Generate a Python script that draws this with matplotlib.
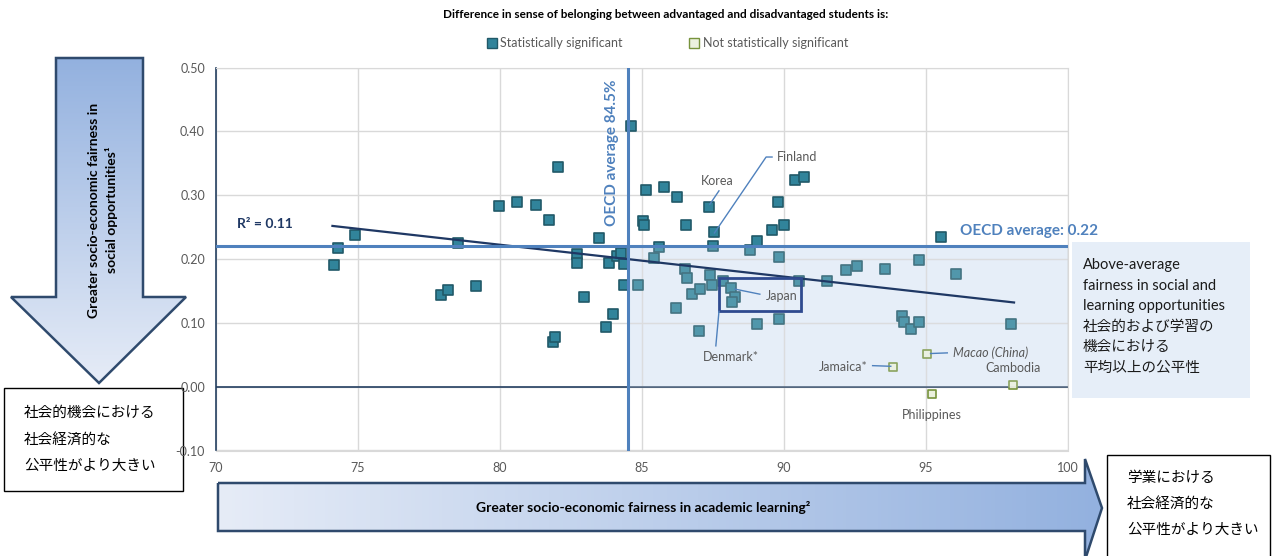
import numpy as np
import matplotlib
matplotlib.use("Agg")
import matplotlib.pyplot as plt
from matplotlib.patches import Polygon, Rectangle
from matplotlib.colors import LinearSegmentedColormap

LATIN = ['Lato', 'Noto Sans CJK JP', 'DejaVu Sans']
CJK = ['Noto Sans CJK JP', 'DejaVu Sans']
plt.rcParams['font.family'] = LATIN

# data
sig_x = [74.14, 74.29, 74.88, 77.93, 78.16, 78.51, 79.17, 79.98, 80.60, 81.28,
         81.74, 82.05, 81.86, 81.93, 82.72, 82.71, 82.95, 83.47, 83.83, 83.99,
         83.74, 84.13, 84.27, 84.38, 84.36, 84.62, 84.86, 85.02, 85.08, 85.15,
         85.43, 85.61, 85.77, 86.23, 86.21, 86.50, 86.54, 86.58, 86.75, 87.03,
         87.01, 87.37, 87.39, 87.45, 87.51, 87.52, 87.84, 88.13, 88.27, 88.18,
         88.79, 89.04, 89.06, 89.59, 89.78, 89.84, 89.84, 90.01, 90.40, 90.70,
         90.53, 91.53, 92.17, 92.58, 93.56, 94.15, 94.24, 94.47, 94.75, 94.75,
         95.52, 96.06, 97.98]
sig_y = [0.190, 0.217, 0.237, 0.144, 0.152, 0.226, 0.158, 0.284, 0.289, 0.285,
         0.261, 0.344, 0.070, 0.078, 0.208, 0.194, 0.141, 0.233, 0.194, 0.114,
         0.093, 0.205, 0.209, 0.192, 0.159, 0.408, 0.160, 0.259, 0.253, 0.309,
         0.202, 0.219, 0.313, 0.298, 0.124, 0.184, 0.253, 0.171, 0.145, 0.153,
         0.088, 0.281, 0.175, 0.160, 0.221, 0.242, 0.165, 0.155, 0.140, 0.132,
         0.214, 0.229, 0.098, 0.246, 0.290, 0.204, 0.106, 0.254, 0.324, 0.329,
         0.166, 0.166, 0.183, 0.189, 0.184, 0.111, 0.101, 0.090, 0.102, 0.199,
         0.235, 0.177, 0.099]

nonsig_names = ['Jamaica*', 'Macao (China)', 'Cambodia', 'Philippines']
nonsig_x = [93.85, 95.02, 98.06, 95.20]
nonsig_y = [0.031, 0.051, 0.002, -0.011]

trend_x = [74.1, 98.1]
trend_y = [0.252, 0.132]
r_squared = 0.11

oecd_x = 84.5
oecd_y = 0.22

x_ticks = [70, 75, 80, 85, 90, 95, 100]
y_ticks = [-0.10, 0.00, 0.10, 0.20, 0.30, 0.40, 0.50]

W, H = 1272, 556
fig = plt.figure(figsize=(W / 100, H / 100), dpi=100)

# overlay in pixel coords for arrows / boxes
ov = fig.add_axes([0, 0, 1, 1])
ov.set_xlim(0, W)
ov.set_ylim(H, 0)
ov.axis('off')

edge = '#2F4A6D'
cmap = LinearSegmentedColormap.from_list('arr', ['#93B1DF', '#E6ECF7'])

# down arrow (left)
down = [(56, 58), (143, 58), (143, 297), (186, 297), (99, 383), (11, 297), (56, 297)]
grad = np.linspace(0, 1, 256).reshape(-1, 1)
im = ov.imshow(grad, cmap=cmap, extent=(11, 186, 383, 58), aspect='auto', zorder=1)
poly = Polygon(down, closed=True, facecolor='none', edgecolor=edge, lw=1.8, zorder=2)
ov.add_patch(poly)
im.set_clip_path(poly)
ov.text(103, 210, 'Greater socio-economic fairness in\nsocial opportunities¹',
        rotation=90, ha='center', va='center', fontsize=10, fontweight='bold',
        color='black', linespacing=1.5, zorder=3)

# right arrow (bottom)
right = [(218, 483), (1085, 483), (1085, 459), (1102, 508), (1085, 560),
         (1085, 531), (218, 531)]
grad2 = np.linspace(1, 0, 256).reshape(1, -1)
im2 = ov.imshow(grad2, cmap=cmap, extent=(218, 1102, 560, 459), aspect='auto', zorder=1)
poly2 = Polygon(right, closed=True, facecolor='none', edgecolor=edge, lw=1.8, zorder=2)
ov.add_patch(poly2)
im2.set_clip_path(poly2)
ov.text(643, 508, 'Greater socio-economic fairness in academic learning²',
        ha='center', va='center', fontsize=10, fontweight='bold', color='black', zorder=3)
ov.set_xlim(0, W)
ov.set_ylim(H, 0)

# japanese boxes
ov.add_patch(Rectangle((4, 388), 179, 103, facecolor='white', edgecolor='black', lw=1, zorder=2))
for i, s in enumerate(['社会的機会における', '社会経済的な', '公平性がより大きい']):
    ov.text(24, 413 + i * 26.5, s, family=CJK, fontsize=10.5, va='center', ha='left', zorder=3)

ov.add_patch(Rectangle((1107, 455), 163, 110, facecolor='white', edgecolor='black', lw=1, zorder=2))
for i, s in enumerate(['学業における', '社会経済的な', '公平性がより大きい']):
    ov.text(1127, 478 + i * 26, s, family=CJK, fontsize=10.5, va='center', ha='left', zorder=3)

# blue text box right
ov.add_patch(Rectangle((1072, 242), 178, 156, facecolor='#E6EEF8', edgecolor='none', zorder=1))
box_lines = ['Above-average', 'fairness in social and', 'learning opportunities',
             '社会的および学習の', '機会における', '平均以上の公平性']
for i, s in enumerate(box_lines):
    fam = LATIN if i < 3 else CJK
    ov.text(1083, 265 + i * 20.6, s, family=fam, fontsize=10.5, va='center',
            ha='left', color='#1a1a1a', zorder=3)

# title + legend
ov.text(666, 14, 'Difference in sense of belonging between advantaged and disadvantaged students is:',
        ha='center', va='center', fontsize=8.5, fontweight='bold', color='black')
ov.plot([492], [43], 's', ms=6.5, mfc='#31849B', mec='#215968', mew=1)
ov.text(500, 43, 'Statistically significant', ha='left', va='center', fontsize=9, color='#595959')
ov.plot([694], [43], 's', ms=6.5, mfc='#EBF1DE', mec='#77933C', mew=1)
ov.text(703, 43, 'Not statistically significant', ha='left', va='center', fontsize=9, color='#595959')

# main chart
ax = fig.add_axes([216 / W, 1 - 450.5 / H, (1068 - 216) / W, (450.5 - 67.7) / H])
ax.set_xlim(70, 100)
ax.set_ylim(-0.10, 0.50)
ax.set_xticks(x_ticks)
ax.set_yticks(y_ticks)
ax.set_yticklabels(['%.2f' % v for v in y_ticks])
ax.tick_params(length=0, labelsize=9, labelcolor='#595959', pad=8)
ax.grid(color='#D9D9D9', lw=1)
ax.set_axisbelow(True)
for s in ['top', 'right', 'bottom']:
    ax.spines[s].set_color('#D9D9D9')
ax.spines['left'].set_color('#243F60')
ax.spines['left'].set_linewidth(1.2)

# above-average quadrant: fill below the grid, light veil above the markers
ax.add_patch(Rectangle((oecd_x, 0), 100 - oecd_x, oecd_y, facecolor='#E6EEF8',
                       edgecolor='none', zorder=0.3))

ax.axhline(0, color='#243F60', lw=1.2, zorder=2)

ax.scatter(sig_x, sig_y, marker='s', s=48, c='#31849B', edgecolors='#215968',
           linewidths=1.2, zorder=3)
ax.scatter(nonsig_x, nonsig_y, marker='s', s=40, c='#EBF1DE', edgecolors='#77933C',
           linewidths=1.2, zorder=3)

ax.add_patch(Rectangle((oecd_x, 0), 100 - oecd_x, oecd_y, facecolor='#E6EEF8', alpha=0.18,
                       edgecolor='#BFBFBF', lw=1.2, zorder=4))

ax.plot(trend_x, trend_y, color='#1F3864', lw=1.6, zorder=5)
ax.axhline(oecd_y, color='#4F81BD', lw=2.2, zorder=5)
ax.axvline(oecd_x, color='#4F81BD', lw=2.2, zorder=5)

ax.text(70.74, 0.255, 'R² = %.2f' % r_squared, fontsize=10, fontweight='bold',
        color='#1F3864', va='center', ha='left', zorder=6)
ax.text(96.2, 0.244, 'OECD average: %.2f' % oecd_y, fontsize=11, fontweight='bold',
        color='#4F81BD', va='center', ha='left', zorder=6)
ax.text(83.93, 0.366, 'OECD average %.1f%%' % oecd_x, rotation=90, fontsize=11,
        fontweight='bold', color='#4F81BD', va='center', ha='center', zorder=6)

# japan box
ax.add_patch(Rectangle((87.71, 0.118), 2.88, 0.053, facecolor='none', edgecolor='#2F4A8F',
                       lw=2, zorder=6))

lab = dict(fontsize=9, color='#595959', zorder=7)
lc = '#4F81BD'
ax.text(87.66, 0.322, 'Korea', ha='center', va='center', **lab)
ax.plot([87.39, 87.71], [0.286, 0.307], color=lc, lw=1, zorder=6)
ax.text(89.75, 0.360, 'Finland', ha='left', va='center', **lab)
ax.plot([87.55, 89.37, 89.58], [0.241, 0.360, 0.360], color=lc, lw=1, zorder=6)
ax.text(89.36, 0.1426, 'Japan', ha='left', va='center', **lab)
ax.plot([88.27, 89.15], [0.153, 0.145], color=lc, lw=1, zorder=6)
ax.text(88.12, 0.046, 'Denmark*', ha='center', va='center', **lab)
ax.plot([87.60, 87.71], [0.064, 0.118], color=lc, lw=1, zorder=6)
ax.text(92.96, 0.031, nonsig_names[0], ha='right', va='center', **lab)
ax.plot([93.12, 93.76], [0.033, 0.032], color=lc, lw=1, zorder=6)
ax.text(95.94, 0.053, nonsig_names[1], ha='left', va='center', style='italic', **lab)
ax.plot([95.16, 95.75], [0.052, 0.053], color=lc, lw=1, zorder=6)
ax.text(98.07, 0.030, nonsig_names[2], ha='center', va='center', **lab)
ax.text(95.22, -0.044, nonsig_names[3], ha='center', va='center', **lab)

fig.savefig('out.png', dpi=100)
